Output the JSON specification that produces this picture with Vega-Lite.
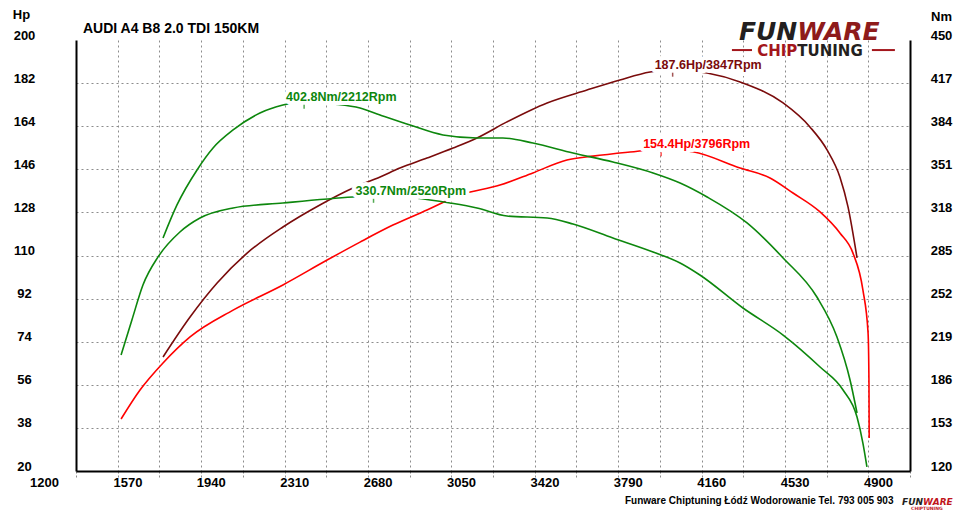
{
  "$schema": "https://vega.github.io/schema/vega-lite/v6.json",
  "width": 834,
  "height": 431,
  "autosize": {"type": "none"},
  "padding": {"left": 76, "top": 40, "right": 50, "bottom": 55},
  "background": "white",
  "config": {"view": {"stroke": null}, "font": "Liberation Sans"},
  "datasets": {
    "power": [
      {"series": "Hp tuned", "rpm": 1586, "hp": 67.6},
      {"series": "Hp tuned", "rpm": 1706, "hp": 84.3},
      {"series": "Hp tuned", "rpm": 1826, "hp": 98.5},
      {"series": "Hp tuned", "rpm": 1959, "hp": 111.0},
      {"series": "Hp tuned", "rpm": 2118, "hp": 121.9},
      {"series": "Hp tuned", "rpm": 2282, "hp": 131.1},
      {"series": "Hp tuned", "rpm": 2429, "hp": 138.2},
      {"series": "Hp tuned", "rpm": 2549, "hp": 142.8},
      {"series": "Hp tuned", "rpm": 2637, "hp": 146.5},
      {"series": "Hp tuned", "rpm": 2757, "hp": 150.7},
      {"series": "Hp tuned", "rpm": 2873, "hp": 154.9},
      {"series": "Hp tuned", "rpm": 2979, "hp": 159.1},
      {"series": "Hp tuned", "rpm": 3112, "hp": 165.8},
      {"series": "Hp tuned", "rpm": 3290, "hp": 173.7},
      {"series": "Hp tuned", "rpm": 3467, "hp": 179.1},
      {"series": "Hp tuned", "rpm": 3613, "hp": 183.3},
      {"series": "Hp tuned", "rpm": 3747, "hp": 186.6},
      {"series": "Hp tuned", "rpm": 3847, "hp": 187.6},
      {"series": "Hp tuned", "rpm": 4000, "hp": 186.2},
      {"series": "Hp tuned", "rpm": 4146, "hp": 182.5},
      {"series": "Hp tuned", "rpm": 4337, "hp": 173.7},
      {"series": "Hp tuned", "rpm": 4456, "hp": 163.7},
      {"series": "Hp tuned", "rpm": 4532, "hp": 154.1},
      {"series": "Hp tuned", "rpm": 4589, "hp": 142.8},
      {"series": "Hp tuned", "rpm": 4625, "hp": 130.3},
      {"series": "Hp tuned", "rpm": 4665, "hp": 109.0},
      {"series": "Hp stock", "rpm": 1400, "hp": 41.7},
      {"series": "Hp stock", "rpm": 1484, "hp": 53.8},
      {"series": "Hp stock", "rpm": 1586, "hp": 65.1},
      {"series": "Hp stock", "rpm": 1706, "hp": 76.0},
      {"series": "Hp stock", "rpm": 1897, "hp": 87.2},
      {"series": "Hp stock", "rpm": 2118, "hp": 97.7},
      {"series": "Hp stock", "rpm": 2314, "hp": 108.1},
      {"series": "Hp stock", "rpm": 2460, "hp": 115.6},
      {"series": "Hp stock", "rpm": 2606, "hp": 122.7},
      {"series": "Hp stock", "rpm": 2757, "hp": 129.0},
      {"series": "Hp stock", "rpm": 2904, "hp": 135.3},
      {"series": "Hp stock", "rpm": 3081, "hp": 139.4},
      {"series": "Hp stock", "rpm": 3227, "hp": 144.5},
      {"series": "Hp stock", "rpm": 3378, "hp": 149.9},
      {"series": "Hp stock", "rpm": 3494, "hp": 151.5},
      {"series": "Hp stock", "rpm": 3658, "hp": 153.2},
      {"series": "Hp stock", "rpm": 3796, "hp": 154.4},
      {"series": "Hp stock", "rpm": 3937, "hp": 153.3},
      {"series": "Hp stock", "rpm": 4146, "hp": 146.5},
      {"series": "Hp stock", "rpm": 4279, "hp": 142.4},
      {"series": "Hp stock", "rpm": 4381, "hp": 136.1},
      {"series": "Hp stock", "rpm": 4501, "hp": 128.2},
      {"series": "Hp stock", "rpm": 4589, "hp": 119.4},
      {"series": "Hp stock", "rpm": 4647, "hp": 111.0},
      {"series": "Hp stock", "rpm": 4691, "hp": 95.6},
      {"series": "Hp stock", "rpm": 4714, "hp": 77.6},
      {"series": "Hp stock", "rpm": 4718, "hp": 56.8},
      {"series": "Hp stock", "rpm": 4719, "hp": 33.8}
    ],
    "torque": [
      {"series": "Nm tuned", "rpm": 1586, "nm": 298.4},
      {"series": "Nm tuned", "rpm": 1648, "nm": 323.7},
      {"series": "Nm tuned", "rpm": 1737, "nm": 350.5},
      {"series": "Nm tuned", "rpm": 1808, "nm": 367.3},
      {"series": "Nm tuned", "rpm": 1897, "nm": 381.1},
      {"series": "Nm tuned", "rpm": 2016, "nm": 394.1},
      {"series": "Nm tuned", "rpm": 2118, "nm": 400.2},
      {"series": "Nm tuned", "rpm": 2212, "nm": 402.8},
      {"series": "Nm tuned", "rpm": 2340, "nm": 401.0},
      {"series": "Nm tuned", "rpm": 2460, "nm": 397.9},
      {"series": "Nm tuned", "rpm": 2549, "nm": 392.6},
      {"series": "Nm tuned", "rpm": 2682, "nm": 384.9},
      {"series": "Nm tuned", "rpm": 2828, "nm": 377.3},
      {"series": "Nm tuned", "rpm": 2979, "nm": 375.0},
      {"series": "Nm tuned", "rpm": 3094, "nm": 375.0},
      {"series": "Nm tuned", "rpm": 3227, "nm": 371.1},
      {"series": "Nm tuned", "rpm": 3405, "nm": 363.5},
      {"series": "Nm tuned", "rpm": 3582, "nm": 356.6},
      {"series": "Nm tuned", "rpm": 3760, "nm": 348.2},
      {"series": "Nm tuned", "rpm": 3880, "nm": 340.5},
      {"series": "Nm tuned", "rpm": 4000, "nm": 329.8},
      {"series": "Nm tuned", "rpm": 4177, "nm": 309.9},
      {"series": "Nm tuned", "rpm": 4337, "nm": 283.1},
      {"series": "Nm tuned", "rpm": 4487, "nm": 253.2},
      {"series": "Nm tuned", "rpm": 4576, "nm": 222.6},
      {"series": "Nm tuned", "rpm": 4634, "nm": 189.7},
      {"series": "Nm tuned", "rpm": 4665, "nm": 164.4},
      {"series": "Nm stock", "rpm": 1400, "nm": 208.8},
      {"series": "Nm stock", "rpm": 1448, "nm": 235.6},
      {"series": "Nm stock", "rpm": 1497, "nm": 262.4},
      {"series": "Nm stock", "rpm": 1564, "nm": 283.9},
      {"series": "Nm stock", "rpm": 1661, "nm": 303.0},
      {"series": "Nm stock", "rpm": 1750, "nm": 313.7},
      {"series": "Nm stock", "rpm": 1897, "nm": 321.4},
      {"series": "Nm stock", "rpm": 2118, "nm": 325.2},
      {"series": "Nm stock", "rpm": 2429, "nm": 329.8},
      {"series": "Nm stock", "rpm": 2520, "nm": 330.7},
      {"series": "Nm stock", "rpm": 2704, "nm": 329.0},
      {"series": "Nm stock", "rpm": 2859, "nm": 325.2},
      {"series": "Nm stock", "rpm": 2979, "nm": 321.4},
      {"series": "Nm stock", "rpm": 3112, "nm": 315.2},
      {"series": "Nm stock", "rpm": 3290, "nm": 313.7},
      {"series": "Nm stock", "rpm": 3405, "nm": 309.1},
      {"series": "Nm stock", "rpm": 3582, "nm": 298.4},
      {"series": "Nm stock", "rpm": 3760, "nm": 287.7},
      {"series": "Nm stock", "rpm": 3880, "nm": 279.3},
      {"series": "Nm stock", "rpm": 3968, "nm": 270.1},
      {"series": "Nm stock", "rpm": 4159, "nm": 244.8},
      {"series": "Nm stock", "rpm": 4337, "nm": 224.1},
      {"series": "Nm stock", "rpm": 4501, "nm": 199.6},
      {"series": "Nm stock", "rpm": 4603, "nm": 182.0},
      {"series": "Nm stock", "rpm": 4665, "nm": 161.3},
      {"series": "Nm stock", "rpm": 4691, "nm": 141.4},
      {"series": "Nm stock", "rpm": 4709, "nm": 123.1}
    ],
    "powerPeaks": [
      {"series": "Hp tuned", "rpm": 3847, "hp": 187.6, "label": "187.6Hp/3847Rpm"},
      {"series": "Hp stock", "rpm": 3796, "hp": 154.4, "label": "154.4Hp/3796Rpm"}
    ],
    "torquePeaks": [
      {"series": "Nm tuned", "rpm": 2212, "nm": 402.8, "label": "402.8Nm/2212Rpm"},
      {"series": "Nm stock", "rpm": 2520, "nm": 330.7, "label": "330.7Nm/2520Rpm"}
    ],
    "one": [{}]
  },
  "layer": [
    {
      "layer": [
        {
          "data": {"name": "power"},
          "mark": {"type": "line", "strokeWidth": 1.6, "interpolate": "monotone"},
          "encoding": {
            "x": {
              "field": "rpm",
              "type": "quantitative",
              "scale": {"domain": [1200, 4900], "nice": false, "zero": false},
              "axis": {
                "values": [1200, 1385, 1570, 1755, 1940, 2125, 2310, 2495, 2680, 2865, 3050, 3235, 3420, 3605, 3790, 3975, 4160, 4345, 4530, 4715, 4900],
                "format": "d",
                "labelExpr": "(datum.value - 1200) % 370 == 0 ? datum.label : ''",
                "labelFont": "Liberation Sans",
                "labelFontSize": 13,
                "labelFontWeight": "bold",
                "labelColor": "black",
                "labelOffset": -32,
                "labelPadding": -1,
                "labelBaseline": "top",
                "labelFlush": false,
                "labelOverlap": false,
                "ticks": true,
                "tickSize": 6,
                "tickDash": [2, 2],
                "tickColor": "#8c8c8c",
                "domainColor": "black",
                "domainWidth": 2,
                "grid": true,
                "gridColor": "#8c8c8c",
                "gridDash": [2, 3],
                "gridWidth": 1,
                "gridOpacity": {"condition": {"test": "datum.value == 1200 || datum.value == 4900", "value": 0}, "value": 1},
                "title": "Funware Chiptuning Łódź Wodorowanie Tel. 793 005 903",
                "titleX": 817,
                "titleY": 29,
                "titleAlign": "right",
                "titleAnchor": null,
                "titleBaseline": "middle",
                "titleFont": "Liberation Sans",
                "titleFontSize": 10,
                "titleFontWeight": "bold",
                "titleColor": "black"
              }
            },
            "y": {
              "field": "hp",
              "type": "quantitative",
              "scale": {"domain": [20, 200], "nice": false, "zero": false},
              "axis": {
                "orient": "left",
                "values": [20, 29, 38, 47, 56, 65, 74, 83, 92, 101, 110, 119, 128, 137, 146, 155, 164, 173, 182, 191, 200],
                "format": "d",
                "labelExpr": "(datum.value - 20) % 18 == 0 ? datum.label : ''",
                "labelFont": "Liberation Sans",
                "labelFontSize": 13,
                "labelFontWeight": "bold",
                "labelColor": "black",
                "labelAlign": "center",
                "labelBaseline": "middle",
                "labelPadding": 52,
                "labelOffset": -5,
                "labelFlush": false,
                "labelOverlap": false,
                "ticks": false,
                "domainColor": "black",
                "domainWidth": 2,
                "grid": true,
                "gridColor": "#8c8c8c",
                "gridDash": [2, 3],
                "gridWidth": 1,
                "gridOpacity": {"condition": {"test": "datum.value == 20 || datum.value >= 191", "value": 0}, "value": 1},
                "title": "Hp",
                "titleAngle": 0,
                "titleX": -55,
                "titleY": -26,
                "titleAlign": "center",
                "titleBaseline": "middle",
                "titleFont": "Liberation Sans",
                "titleFontSize": 13,
                "titleFontWeight": "bold",
                "titleColor": "black"
              }
            },
            "color": {
              "field": "series",
              "type": "nominal",
              "scale": {"domain": ["Hp tuned", "Hp stock", "Nm tuned", "Nm stock"], "range": ["#7a0b0b", "#ff0000", "#0d870d", "#0d870d"]},
              "legend": null
            }
          }
        },
        {
          "data": {"name": "powerPeaks"},
          "mark": {"type": "text", "align": "left", "baseline": "alphabetic", "dx": -18, "dy": -1, "font": "Liberation Sans", "fontSize": 12.5, "fontWeight": "bold", "color": "white", "stroke": "white", "strokeWidth": 8, "strokeJoin": "round"},
          "encoding": {
            "x": {"field": "rpm", "type": "quantitative"},
            "y": {"field": "hp", "type": "quantitative"},
            "text": {"field": "label"}
          }
        },
        {
          "data": {"name": "powerPeaks"},
          "mark": {"type": "tick", "orient": "vertical", "size": 4, "thickness": 1.5, "yOffset": 5},
          "encoding": {
            "x": {"field": "rpm", "type": "quantitative"},
            "y": {"field": "hp", "type": "quantitative"},
            "color": {"field": "series", "type": "nominal", "legend": null}
          }
        },
        {
          "data": {"name": "powerPeaks"},
          "mark": {"type": "text", "align": "left", "baseline": "alphabetic", "dx": -18, "dy": -1, "font": "Liberation Sans", "fontSize": 12.5, "fontWeight": "bold"},
          "encoding": {
            "x": {"field": "rpm", "type": "quantitative"},
            "y": {"field": "hp", "type": "quantitative"},
            "text": {"field": "label"},
            "color": {"field": "series", "type": "nominal", "legend": null}
          }
        },
        {
          "data": {"name": "one"},
          "mark": {"type": "text", "align": "left", "baseline": "alphabetic", "font": "Liberation Sans", "fontSize": 14, "fontWeight": "bold", "color": "black"},
          "encoding": {
            "x": {"datum": 1231, "type": "quantitative"},
            "y": {"datum": 202.9, "type": "quantitative"},
            "text": {"value": "AUDI A4 B8 2.0 TDI 150KM"}
          }
        },
        {
          "data": {"name": "one"},
          "mark": {"type": "text", "align": "right", "baseline": "alphabetic", "font": "DejaVu Sans", "fontSize": 25, "fontWeight": "bold", "fontStyle": "italic", "color": "#231f20"},
          "encoding": {
            "x": {"datum": 4400, "type": "quantitative"},
            "y": {"datum": 200, "type": "quantitative"},
            "text": {"value": "FUN"}
          }
        },
        {
          "data": {"name": "one"},
          "mark": {"type": "text", "align": "left", "baseline": "alphabetic", "font": "DejaVu Sans", "fontSize": 25, "fontWeight": "bold", "fontStyle": "italic", "color": "#8e1b1b"},
          "encoding": {
            "x": {"datum": 4400, "type": "quantitative"},
            "y": {"datum": 200, "type": "quantitative"},
            "text": {"value": "WARE"}
          }
        },
        {
          "data": {"name": "one"},
          "mark": {"type": "text", "align": "right", "baseline": "alphabetic", "font": "DejaVu Sans", "fontSize": 15, "fontWeight": "bold", "color": "#a3161c"},
          "encoding": {
            "x": {"datum": 4400, "type": "quantitative"},
            "y": {"datum": 193.2, "type": "quantitative"},
            "text": {"value": "CHIP"}
          }
        },
        {
          "data": {"name": "one"},
          "mark": {"type": "text", "align": "left", "baseline": "alphabetic", "font": "DejaVu Sans", "fontSize": 15, "fontWeight": "bold", "color": "#231f20"},
          "encoding": {
            "x": {"datum": 4400, "type": "quantitative"},
            "y": {"datum": 193.2, "type": "quantitative"},
            "text": {"value": "TUNING"}
          }
        },
        {
          "data": {"name": "one"},
          "mark": {"type": "rule", "color": "#a3161c", "strokeWidth": 2},
          "encoding": {
            "x": {"datum": 4110, "type": "quantitative"},
            "x2": {"datum": 4199},
            "y": {"datum": 195.8, "type": "quantitative"}
          }
        },
        {
          "data": {"name": "one"},
          "mark": {"type": "rule", "color": "#a3161c", "strokeWidth": 2},
          "encoding": {
            "x": {"datum": 4731, "type": "quantitative"},
            "x2": {"datum": 4833},
            "y": {"datum": 195.8, "type": "quantitative"}
          }
        },
        {
          "data": {"name": "one"},
          "mark": {"type": "text", "align": "right", "baseline": "alphabetic", "font": "DejaVu Sans", "fontSize": 9, "fontWeight": "bold", "fontStyle": "italic", "color": "#231f20"},
          "encoding": {
            "x": {"datum": 4958, "type": "quantitative"},
            "y": {"datum": 5.8, "type": "quantitative"},
            "text": {"value": "FUN"}
          }
        },
        {
          "data": {"name": "one"},
          "mark": {"type": "text", "align": "left", "baseline": "alphabetic", "font": "DejaVu Sans", "fontSize": 9, "fontWeight": "bold", "fontStyle": "italic", "color": "#c0141c"},
          "encoding": {
            "x": {"datum": 4958, "type": "quantitative"},
            "y": {"datum": 5.8, "type": "quantitative"},
            "text": {"value": "WARE"}
          }
        },
        {
          "data": {"name": "one"},
          "mark": {"type": "text", "align": "center", "baseline": "alphabetic", "font": "DejaVu Sans", "fontSize": 4.5, "fontWeight": "bold", "color": "#c0141c"},
          "encoding": {
            "x": {"datum": 4975, "type": "quantitative"},
            "y": {"datum": 3.9, "type": "quantitative"},
            "text": {"value": "CHIPTUNING"}
          }
        }
      ]
    },
    {
      "layer": [
        {
          "data": {"name": "torque"},
          "mark": {"type": "line", "strokeWidth": 1.6, "interpolate": "monotone"},
          "encoding": {
            "x": {"field": "rpm", "type": "quantitative"},
            "y": {
              "field": "nm",
              "type": "quantitative",
              "scale": {"domain": [120, 450], "nice": false, "zero": false},
              "axis": {
                "orient": "right",
                "values": [120, 153, 186, 219, 252, 285, 318, 351, 384, 417, 450],
                "format": "d",
                "labelFont": "Liberation Sans",
                "labelFontSize": 13,
                "labelFontWeight": "bold",
                "labelColor": "black",
                "labelAlign": "center",
                "labelBaseline": "middle",
                "labelPadding": 31,
                "labelOffset": -5,
                "labelFlush": false,
                "labelOverlap": false,
                "ticks": false,
                "grid": false,
                "domainColor": "black",
                "domainWidth": 2,
                "title": "Nm",
                "titleAngle": 0,
                "titleX": 31,
                "titleY": -24,
                "titleAlign": "center",
                "titleBaseline": "middle",
                "titleFont": "Liberation Sans",
                "titleFontSize": 13,
                "titleFontWeight": "bold",
                "titleColor": "black"
              }
            },
            "color": {"field": "series", "type": "nominal", "legend": null}
          }
        },
        {
          "data": {"name": "torquePeaks"},
          "mark": {"type": "text", "align": "left", "baseline": "alphabetic", "dx": -18, "dy": -1, "font": "Liberation Sans", "fontSize": 12.5, "fontWeight": "bold", "color": "white", "stroke": "white", "strokeWidth": 8, "strokeJoin": "round"},
          "encoding": {
            "x": {"field": "rpm", "type": "quantitative"},
            "y": {"field": "nm", "type": "quantitative"},
            "text": {"field": "label"}
          }
        },
        {
          "data": {"name": "torquePeaks"},
          "mark": {"type": "tick", "orient": "vertical", "size": 4, "thickness": 1.5, "yOffset": 5},
          "encoding": {
            "x": {"field": "rpm", "type": "quantitative"},
            "y": {"field": "nm", "type": "quantitative"},
            "color": {"field": "series", "type": "nominal", "legend": null}
          }
        },
        {
          "data": {"name": "torquePeaks"},
          "mark": {"type": "text", "align": "left", "baseline": "alphabetic", "dx": -18, "dy": -1, "font": "Liberation Sans", "fontSize": 12.5, "fontWeight": "bold"},
          "encoding": {
            "x": {"field": "rpm", "type": "quantitative"},
            "y": {"field": "nm", "type": "quantitative"},
            "text": {"field": "label"},
            "color": {"field": "series", "type": "nominal", "legend": null}
          }
        }
      ]
    }
  ],
  "resolve": {"scale": {"y": "independent"}}
}
